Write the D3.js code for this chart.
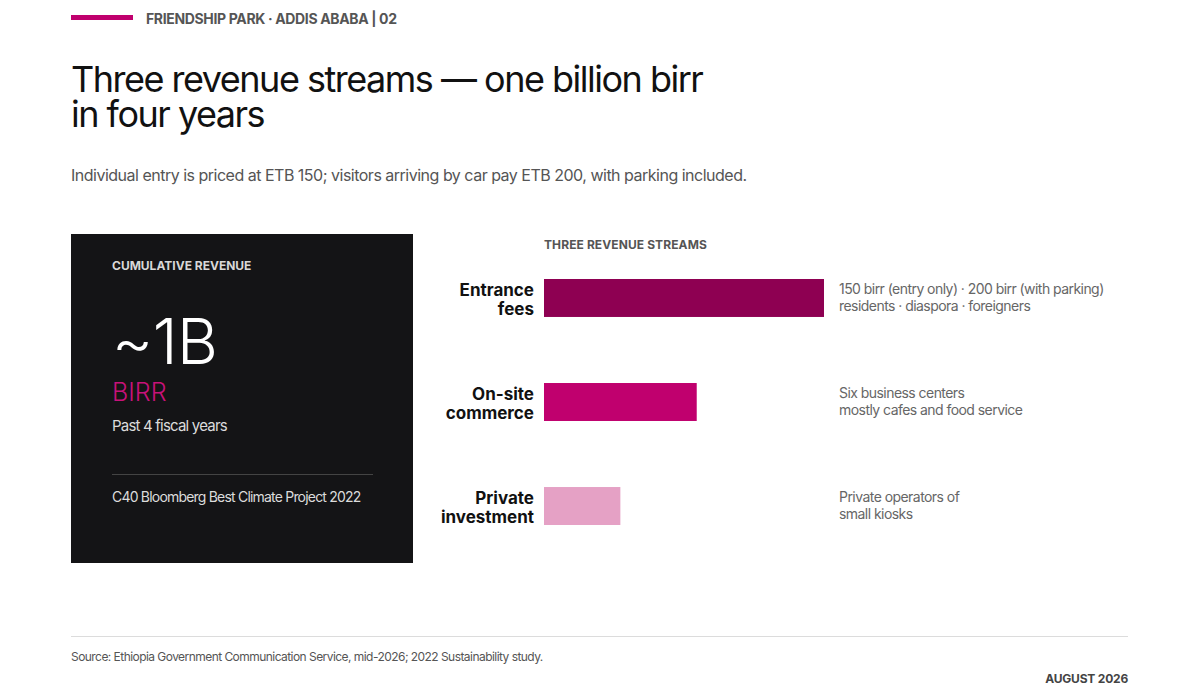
<!DOCTYPE html>
<html>
<head>
<meta charset="utf-8">
<script src="https://cdn.jsdelivr.net/npm/d3@7/dist/d3.min.js"></script>
<style>
  html, body { margin: 0; padding: 0; background: #fff; }
  svg { display: block; font-family: Inter, "Noto Sans", sans-serif; }
</style>
</head>
<body>
<svg id="chart" width="1200" height="700"></svg>
<script>
// revenue streams, approximate share of the ~1B birr
const streams = ["Entrance fees", "On-site commerce", "Private investment"]
const labelLines = [["Entrance", "fees"], ["On-site", "commerce"], ["Private", "investment"]]
const shares = [55, 30, 15]
const notes = [
    ["150 birr (entry only) · 200 birr (with parking)", "residents · diaspora · foreigners"],
    ["Six business centers", "mostly cafes and food service"],
    ["Private operators of", "small kiosks"]
]
const barColors = ["#8e0052", "#c0006e", "#e5a1c5"]

const svg = d3.select("#chart")

// header
svg.append("rect").attr("x", 71).attr("y", 15).attr("width", 62).attr("height", 5).attr("fill", "#c0006e")
svg.append("text").attr("x", 146).attr("y", 24)
    .style("font-size", "14px").style("font-weight", 700).attr("fill", "#555")
    .style("letter-spacing", "-0.35px")
    .text("FRIENDSHIP PARK · ADDIS ABABA | 02")

svg.append("text").attr("x", 71).attr("y", 92)
    .style("font-size", "36px").style("font-weight", 400).attr("fill", "#111")
    .style("letter-spacing", "-1.5px")
    .text("Three revenue streams — one billion birr")
svg.append("text").attr("x", 71).attr("y", 127)
    .style("font-size", "36px").style("font-weight", 400).attr("fill", "#111")
    .style("letter-spacing", "-1.5px")
    .text("in four years")

svg.append("text").attr("x", 71).attr("y", 181)
    .style("font-size", "16px").attr("fill", "#555")
    .style("letter-spacing", "-0.5px")
    .text("Individual entry is priced at ETB 150; visitors arriving by car pay ETB 200, with parking included.")

// KPI panel
const panel = svg.append("g")
panel.append("rect").attr("x", 71).attr("y", 234).attr("width", 342).attr("height", 329).attr("fill", "#141416")
panel.append("text").attr("x", 112).attr("y", 270)
    .style("font-size", "12px").style("font-weight", 700).attr("fill", "#d8d8d8")
    .text("CUMULATIVE REVENUE")
panel.append("text").attr("x", 112).attr("y", 364)
    .style("font-size", "63px").style("font-weight", 300).attr("fill", "#fff")
    .style("letter-spacing", "-0.5px")
    .text("~1B")
panel.append("text").attr("x", 112).attr("y", 401)
    .style("font-size", "25px").style("font-weight", 300).attr("fill", "#c8127a")
    .text("BIRR")
panel.append("text").attr("x", 112).attr("y", 431)
    .style("font-size", "15px").attr("fill", "#dcdcdc")
    .style("letter-spacing", "-0.8px")
    .text("Past 4 fiscal years")
panel.append("line").attr("x1", 112).attr("x2", 373).attr("y1", 474.5).attr("y2", 474.5)
    .attr("stroke", "#444").attr("stroke-width", 1)
panel.append("text").attr("x", 112).attr("y", 502)
    .style("font-size", "14px").attr("fill", "#dcdcdc")
    .style("letter-spacing", "-0.8px")
    .text("C40 Bloomberg Best Climate Project 2022")

// bar chart
svg.append("text").attr("x", 544).attr("y", 249)
    .style("font-size", "12px").style("font-weight", 700).attr("fill", "#555")
    .style("letter-spacing", "0.1px")
    .text("THREE REVENUE STREAMS")

const x = d3.scaleLinear().domain([0, d3.max(shares)]).range([544, 824])
const y = d3.scaleBand().domain(streams).range([279, 525]).paddingInner(0.635).paddingOuter(0)

const rows = svg.selectAll("g.row")
    .data(streams.map((s, i) => ({ name: s, value: shares[i], lines: labelLines[i], note: notes[i], fill: barColors[i] })))
    .join("g").attr("class", "row")

rows.append("rect")
    .attr("x", x(0))
    .attr("y", d => y(d.name))
    .attr("width", d => x(d.value) - x(0))
    .attr("height", y.bandwidth())
    .attr("fill", d => d.fill)

rows.append("text")
    .attr("text-anchor", "end")
    .style("font-size", "17px").style("font-weight", 700).attr("fill", "#111")
    .selectAll("tspan")
    .data(d => d.lines.map((t, j) => ({ t, j, y0: y(d.name) })))
    .join("tspan")
    .attr("x", 534)
    .attr("y", d => d.y0 + 17 + d.j * 19)
    .text(d => d.t)

rows.append("text")
    .style("font-size", "14px").attr("fill", "#666")
    .style("letter-spacing", "-0.55px")
    .selectAll("tspan")
    .data(d => d.note.map((t, j) => ({ t, j, y0: y(d.name) })))
    .join("tspan")
    .attr("x", 839)
    .attr("y", d => d.y0 + 15 + d.j * 17)
    .text(d => d.t)

// footer
svg.append("line").attr("x1", 71).attr("x2", 1128).attr("y1", 636.5).attr("y2", 636.5)
    .attr("stroke", "#dcdcdc").attr("stroke-width", 1)
svg.append("text").attr("x", 71).attr("y", 661)
    .style("font-size", "12px").attr("fill", "#555")
    .style("letter-spacing", "-0.55px")
    .text("Source: Ethiopia Government Communication Service, mid-2026; 2022 Sustainability study.")
svg.append("text").attr("x", 1128).attr("y", 683).attr("text-anchor", "end")
    .style("font-size", "12px").style("font-weight", 700).attr("fill", "#444")
    .style("letter-spacing", "-0.2px")
    .text("AUGUST 2026")
</script>
</body>
</html>
